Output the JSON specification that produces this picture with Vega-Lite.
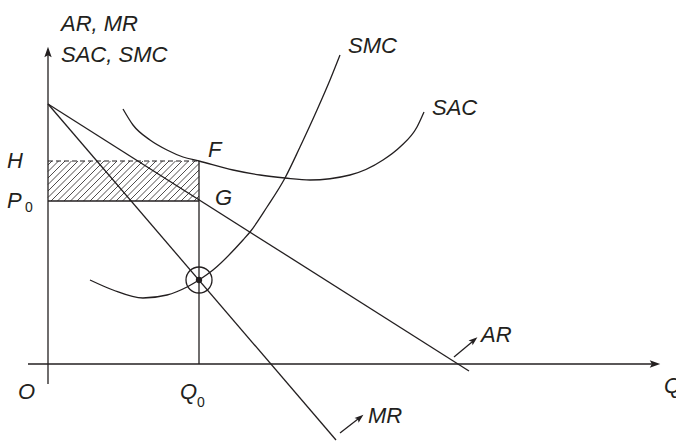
{
  "$schema": "https://vega.github.io/schema/vega-lite/v6.json",
  "width": 676,
  "height": 442,
  "autosize": {"type": "none"},
  "padding": 0,
  "background": "white",
  "config": {"view": {"stroke": null}},
  "datasets": {
    "hatch": [
      {"x": 0, "y": 199, "x2": 4, "y2": 203},
      {"x": 0, "y": 192.5, "x2": 10.5, "y2": 203},
      {"x": 0, "y": 186, "x2": 17, "y2": 203},
      {"x": 0, "y": 179.5, "x2": 23.5, "y2": 203},
      {"x": 0, "y": 173, "x2": 30, "y2": 203},
      {"x": 0, "y": 166.5, "x2": 36.5, "y2": 203},
      {"x": 3, "y": 163, "x2": 43, "y2": 203},
      {"x": 9.5, "y": 163, "x2": 49.5, "y2": 203},
      {"x": 16, "y": 163, "x2": 56, "y2": 203},
      {"x": 22.5, "y": 163, "x2": 62.5, "y2": 203},
      {"x": 29, "y": 163, "x2": 69, "y2": 203},
      {"x": 35.5, "y": 163, "x2": 75.5, "y2": 203},
      {"x": 42, "y": 163, "x2": 82, "y2": 203},
      {"x": 48.5, "y": 163, "x2": 88.5, "y2": 203},
      {"x": 55, "y": 163, "x2": 95, "y2": 203},
      {"x": 61.5, "y": 163, "x2": 101.5, "y2": 203},
      {"x": 68, "y": 163, "x2": 108, "y2": 203},
      {"x": 74.5, "y": 163, "x2": 114.5, "y2": 203},
      {"x": 81, "y": 163, "x2": 121, "y2": 203},
      {"x": 87.5, "y": 163, "x2": 127.5, "y2": 203},
      {"x": 94, "y": 163, "x2": 134, "y2": 203},
      {"x": 100.5, "y": 163, "x2": 140.5, "y2": 203},
      {"x": 107, "y": 163, "x2": 147, "y2": 203},
      {"x": 113.5, "y": 163, "x2": 151, "y2": 200.5},
      {"x": 120, "y": 163, "x2": 151, "y2": 194},
      {"x": 126.5, "y": 163, "x2": 151, "y2": 187.5},
      {"x": 133, "y": 163, "x2": 151, "y2": 181},
      {"x": 139.5, "y": 163, "x2": 151, "y2": 174.5},
      {"x": 146, "y": 163, "x2": 151, "y2": 168}
    ],
    "segments": [
      {"name": "yaxis", "x": 0, "y": -20, "x2": 0, "y2": 310},
      {"name": "xaxis", "x": -20, "y": 0, "x2": 608, "y2": 0},
      {"name": "AR", "x": 0, "y": 260, "x2": 421, "y2": -7},
      {"name": "MR", "x": 0, "y": 260, "x2": 288, "y2": -76},
      {"name": "P0", "x": 0, "y": 163, "x2": 151, "y2": 163},
      {"name": "Q0", "x": 151, "y": 203, "x2": 151, "y2": 0},
      {"name": "ARarrow", "x": 406, "y": 7, "x2": 424, "y2": 22},
      {"name": "MRarrow", "x": 292, "y": -69, "x2": 310, "y2": -55}
    ],
    "dashed": [
      {"name": "H", "x": 0, "y": 203, "x2": 151, "y2": 203}
    ],
    "curves": [
      {"curve": "SMC", "x": 42, "y": 84},
      {"curve": "SMC", "x": 65, "y": 74},
      {"curve": "SMC", "x": 95, "y": 66},
      {"curve": "SMC", "x": 119, "y": 69},
      {"curve": "SMC", "x": 139, "y": 77},
      {"curve": "SMC", "x": 151, "y": 84},
      {"curve": "SMC", "x": 165, "y": 94},
      {"curve": "SMC", "x": 195, "y": 124},
      {"curve": "SMC", "x": 202, "y": 132},
      {"curve": "SMC", "x": 219, "y": 157},
      {"curve": "SMC", "x": 237, "y": 186},
      {"curve": "SMC", "x": 252, "y": 217},
      {"curve": "SMC", "x": 269, "y": 254},
      {"curve": "SMC", "x": 282, "y": 284},
      {"curve": "SMC", "x": 292, "y": 309},
      {"curve": "SAC", "x": 75, "y": 255},
      {"curve": "SAC", "x": 85, "y": 239},
      {"curve": "SAC", "x": 102, "y": 224},
      {"curve": "SAC", "x": 119, "y": 214},
      {"curve": "SAC", "x": 135, "y": 207},
      {"curve": "SAC", "x": 151, "y": 203},
      {"curve": "SAC", "x": 185, "y": 194},
      {"curve": "SAC", "x": 212, "y": 189},
      {"curve": "SAC", "x": 237, "y": 186},
      {"curve": "SAC", "x": 262, "y": 184},
      {"curve": "SAC", "x": 302, "y": 189},
      {"curve": "SAC", "x": 335, "y": 204},
      {"curve": "SAC", "x": 352, "y": 217},
      {"curve": "SAC", "x": 369, "y": 237},
      {"curve": "SAC", "x": 376, "y": 252}
    ],
    "equilibrium": [
      {"x": 151, "y": 84}
    ],
    "arrowY": [{"x": 0, "y": 312}],
    "arrowX": [{"x": 607, "y": 0}],
    "arrowLabels": [
      {"x": 426, "y": 24},
      {"x": 312, "y": -53.5}
    ],
    "labels": [
      {"x": 13, "y": 333, "text": "AR, MR"},
      {"x": 13, "y": 302, "text": "SAC, SMC"},
      {"x": 300, "y": 311, "text": "SMC"},
      {"x": 384, "y": 249, "text": "SAC"},
      {"x": -41, "y": 196, "text": "H"},
      {"x": -41, "y": 156, "text": "P"},
      {"x": 160, "y": 207, "text": "F"},
      {"x": 167, "y": 159, "text": "G"},
      {"x": -30, "y": -35, "text": "O"},
      {"x": 132, "y": -35, "text": "Q"},
      {"x": 433, "y": 22, "text": "AR"},
      {"x": 320, "y": -59, "text": "MR"},
      {"x": 616, "y": -29, "text": "Q"}
    ],
    "subscripts": [
      {"x": -23, "y": 152, "text": "0"},
      {"x": 149, "y": -43, "text": "0"}
    ]
  },
  "encoding": {
    "x": {"field": "x", "type": "quantitative", "scale": {"domain": [-48, 628], "nice": false, "zero": false}, "axis": null},
    "y": {"field": "y", "type": "quantitative", "scale": {"domain": [-78, 364], "nice": false, "zero": false}, "axis": null}
  },
  "layer": [
    {
      "data": {"name": "hatch"},
      "mark": {"type": "rule", "stroke": "#231f20", "strokeWidth": 0.8},
      "encoding": {"x2": {"field": "x2"}, "y2": {"field": "y2"}}
    },
    {
      "data": {"name": "segments"},
      "mark": {"type": "rule", "stroke": "#231f20", "strokeWidth": 1.3},
      "encoding": {"x2": {"field": "x2"}, "y2": {"field": "y2"}}
    },
    {
      "data": {"name": "dashed"},
      "mark": {"type": "rule", "stroke": "#231f20", "strokeWidth": 1.1, "strokeDash": [5, 3]},
      "encoding": {"x2": {"field": "x2"}, "y2": {"field": "y2"}}
    },
    {
      "data": {"name": "curves"},
      "mark": {"type": "line", "stroke": "#231f20", "strokeWidth": 1.3, "interpolate": "monotone"},
      "encoding": {"detail": {"field": "curve", "type": "nominal"}}
    },
    {
      "data": {"name": "equilibrium"},
      "mark": {"type": "point", "shape": "circle", "size": 676, "filled": false, "stroke": "#231f20", "strokeWidth": 1.3, "opacity": 1},
      "encoding": {}
    },
    {
      "data": {"name": "equilibrium"},
      "mark": {"type": "point", "shape": "circle", "size": 40, "filled": true, "fill": "#231f20", "opacity": 1},
      "encoding": {}
    },
    {
      "data": {"name": "arrowY"},
      "mark": {"type": "point", "shape": "M0,-1L0.7,1L0,0.6L-0.7,1Z", "size": 110, "filled": true, "fill": "#231f20", "opacity": 1, "angle": 0},
      "encoding": {}
    },
    {
      "data": {"name": "arrowX"},
      "mark": {"type": "point", "shape": "M0,-1L0.7,1L0,0.6L-0.7,1Z", "size": 110, "filled": true, "fill": "#231f20", "opacity": 1, "angle": 90},
      "encoding": {}
    },
    {
      "data": {"name": "arrowLabels"},
      "mark": {"type": "point", "shape": "M0,-1L0.7,1L0,0.6L-0.7,1Z", "size": 80, "filled": true, "fill": "#231f20", "opacity": 1, "angle": 50},
      "encoding": {}
    },
    {
      "data": {"name": "labels"},
      "mark": {"type": "text", "font": "Liberation Sans", "fontSize": 22, "fontStyle": "italic", "fill": "#231f20", "align": "left", "baseline": "alphabetic"},
      "encoding": {"text": {"field": "text"}}
    },
    {
      "data": {"name": "subscripts"},
      "mark": {"type": "text", "font": "Liberation Sans", "fontSize": 14, "fill": "#231f20", "align": "left", "baseline": "alphabetic"},
      "encoding": {"text": {"field": "text"}}
    }
  ]
}
